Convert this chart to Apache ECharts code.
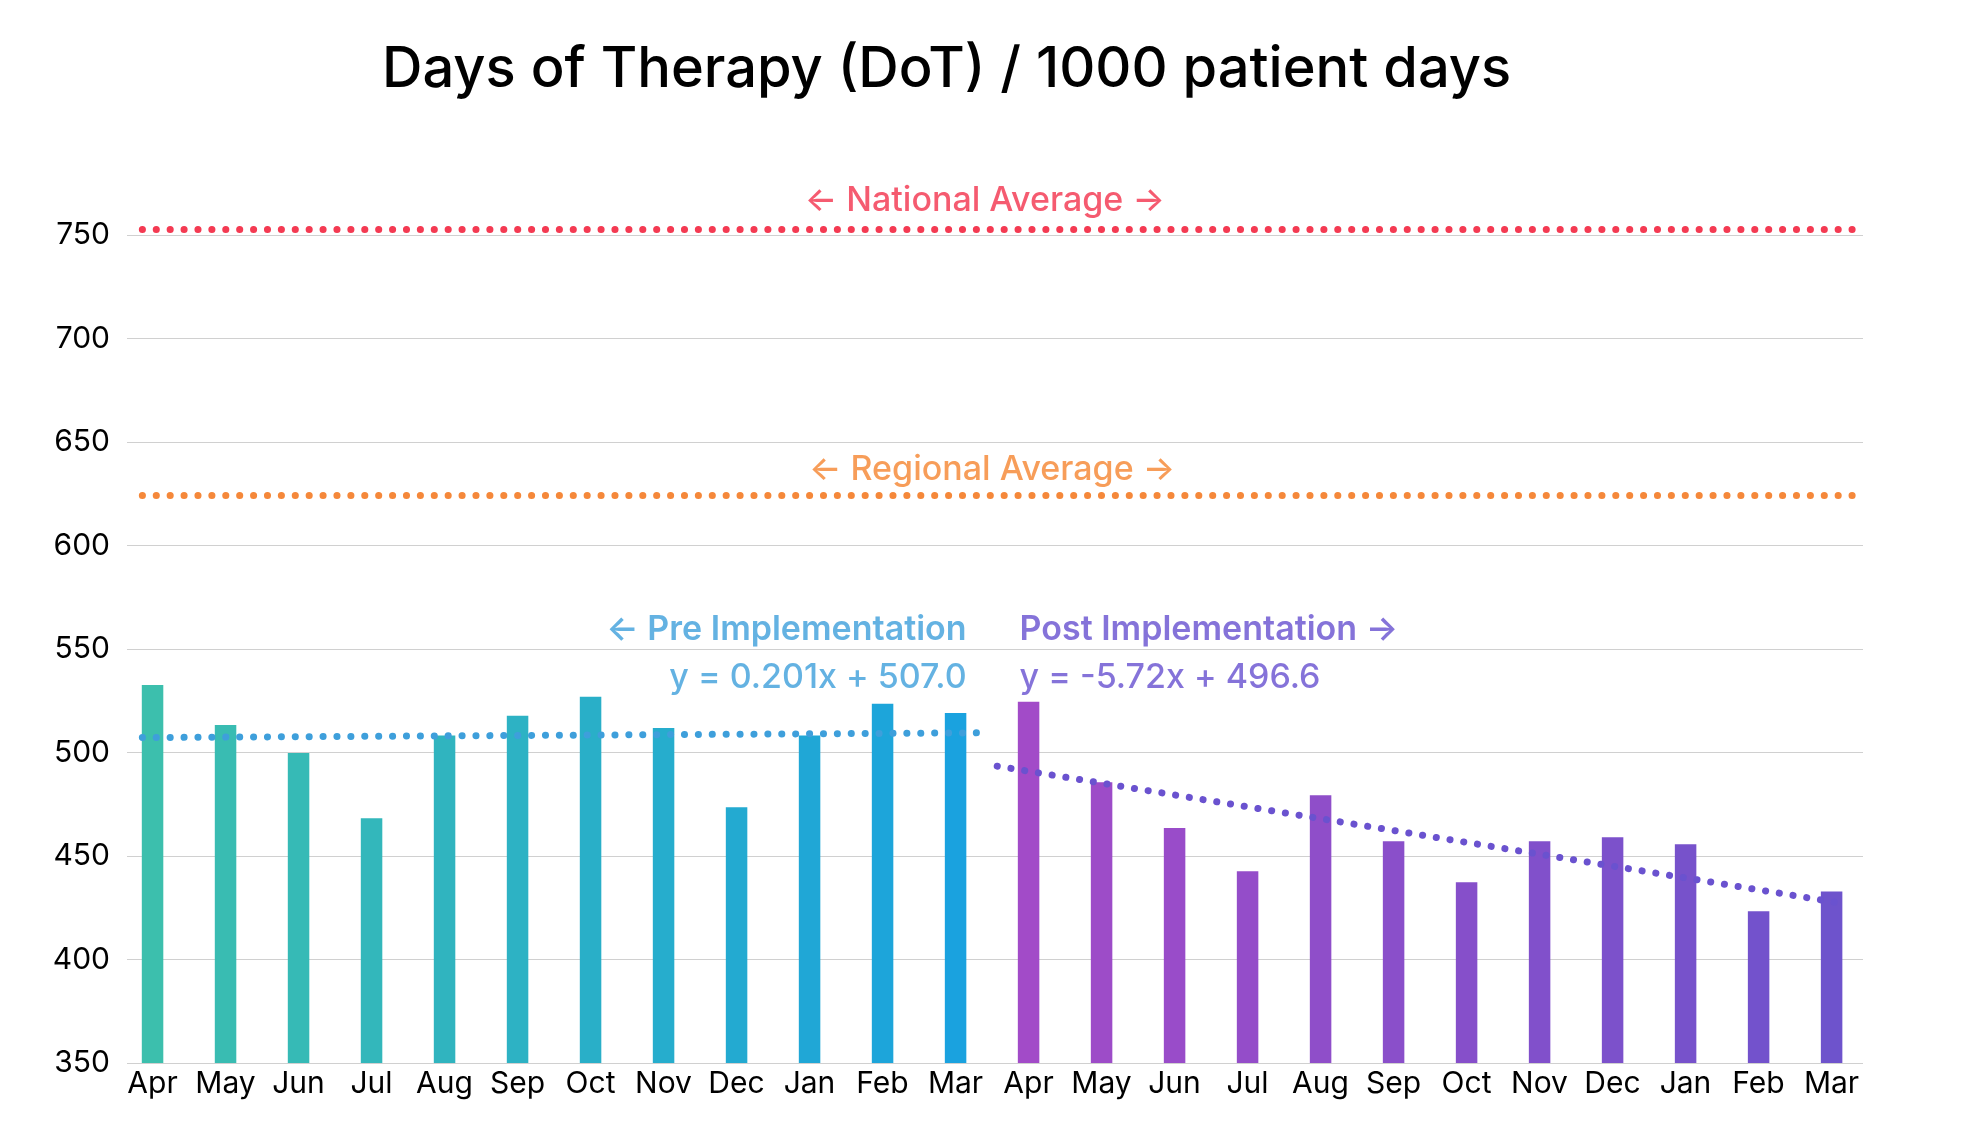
<!DOCTYPE html>
<html><head><meta charset="utf-8">
<script src="https://cdn.jsdelivr.net/npm/echarts@6/dist/echarts.min.js"></script>
<style>html,body{margin:0;padding:0;background:#fff}#c{width:1979px;height:1147px}</style>
</head><body><div id="c"></div>
<script>
const months = ['Apr','May','Jun','Jul','Aug','Sep','Oct','Nov','Dec','Jan','Feb','Mar','Apr','May','Jun','Jul','Aug','Sep','Oct','Nov','Dec','Jan','Feb','Mar'];
const preValues = [532.6, 513.3, 499.8, 468.2, 508.2, 517.7, 526.9, 511.8, 473.6, 508.2, 523.5, 519.1];
const postValues = [524.5, 485.6, 463.5, 442.6, 479.4, 457.1, 437.3, 457.1, 459.1, 455.7, 423.3, 432.9];
const yMin = 350, yMax = 750, yStep = 50;
const nationalAverage = 752.7;
const regionalAverage = 624.1;
const averageSpan = [-0.14, 23.43];
const preTrend = [[-0.14, 507.2], [11.36, 509.5]];
const postTrend = [[11.57, 493.4], [23.13, 427.2]];
const nationalLabel = '← National Average →';
const regionalLabel = '← Regional Average →';
const preLabel = '← Pre Implementation';
const postLabel = 'Post Implementation →';
const preEquation = 'y = 0.201x + 507.0';
const postEquation = 'y = -5.72x + 496.6';
const titleText = 'Days of Therapy (DoT) / 1000 patient days';

const FONT = 'Inter';
const preColors = ['#3cbfad', '#1aa2df'];
const postColors = ['#a24bc8', '#6e53cc'];
function hex(h){return [1,3,5].map(i=>parseInt(h.substr(i,2),16));}
function mix(a,b,t){const A=hex(a),B=hex(b);return 'rgb('+A.map((v,i)=>Math.round(v+(B[i]-v)*t)).join(',')+')';}
const allValues = preValues.concat(postValues);
const barData = allValues.map((v,i)=>{
  const pre = i < preValues.length;
  const t = pre ? i/(preValues.length-1) : (i-preValues.length)/(postValues.length-1);
  const c = pre ? mix(preColors[0],preColors[1],t) : mix(postColors[0],postColors[1],t);
  return {value:[i,v],itemStyle:{color:c}};
});

const mid = 11.5;
function txt(x,y,text,color,pos,weight,size,dist){
  return {value:[x,y],label:{show:true,formatter:text,position:pos,distance:dist||0,color:color,fontFamily:FONT,fontWeight:weight,fontSize:size}};
}
const dotted = (c,w)=>({color:c,width:w,type:[0.1,13.8],cap:'round'});

const chart = echarts.init(document.getElementById('c'));
chart.setOption({
  animation:false,
  backgroundColor:'#fff',
  title:{text:titleText,left:382,top:42,padding:0,textStyle:{fontFamily:FONT,fontSize:56,fontWeight:500,color:'#000'}},
  grid:[
    {left:127,right:116,top:235,bottom:84},
    {left:152.5,right:147.5,top:235,bottom:84}
  ],
  xAxis:[
    {type:'value',gridIndex:0,min:-0.35,max:23.43,show:false,splitLine:{show:false}},
    {type:'category',gridIndex:1,data:months,boundaryGap:false,axisLine:{show:false},axisTick:{show:false},
     axisLabel:{interval:0,fontFamily:FONT,fontSize:30,color:'#000',margin:6},splitLine:{show:false}}
  ],
  yAxis:[
    {type:'value',gridIndex:0,min:yMin,max:yMax,interval:yStep,axisLine:{show:false},axisTick:{show:false},
     axisLabel:{fontFamily:FONT,fontSize:30,color:'#000',margin:17},splitLine:{lineStyle:{color:'#d0d0d0',width:1}}},
    {type:'value',gridIndex:1,min:yMin,max:yMax,interval:yStep,show:false,splitLine:{show:false}}
  ],
  series:[
    {type:'bar',xAxisIndex:0,yAxisIndex:0,data:barData,barWidth:21.5},
    {type:'line',xAxisIndex:0,yAxisIndex:0,clip:false,symbol:'none',data:[[averageSpan[0],nationalAverage],[averageSpan[1],nationalAverage]],lineStyle:dotted('#f43a52',7)},
    {type:'line',xAxisIndex:0,yAxisIndex:0,clip:false,symbol:'none',data:[[averageSpan[0],regionalAverage],[averageSpan[1],regionalAverage]],lineStyle:dotted('#f5883a',7)},
    {type:'line',xAxisIndex:0,yAxisIndex:0,clip:false,symbol:'none',data:preTrend,lineStyle:dotted('#3e9fdb',7),z:3},
    {type:'line',xAxisIndex:0,yAxisIndex:0,clip:false,symbol:'none',data:postTrend,lineStyle:dotted('#6a52cf',7),z:3},
    {type:'scatter',xAxisIndex:0,yAxisIndex:0,clip:false,symbolSize:1,itemStyle:{color:'rgba(0,0,0,0)'},silent:true,
     data:[
       txt(11.4,766.5,nationalLabel,'#f2324c','inside',500,34),
       txt(11.5,636.7,regionalLabel,'#f5842f','inside',500,34),
       txt(mid,559.4,preLabel,'#3d9fdb','left',600,34,25),
       txt(mid,536,preEquation,'#3d9fdb','left',500,34,25),
       txt(mid,559.4,postLabel,'#6650cf','right',600,34,27),
       txt(mid,536,postEquation,'#6650cf','right',500,34,27)
     ]}
  ]
});
</script></body></html>
